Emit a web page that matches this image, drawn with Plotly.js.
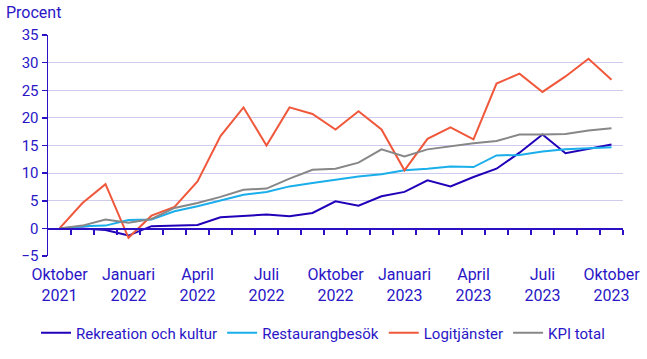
<!DOCTYPE html>
<html>
<head>
<meta charset="utf-8">
<script src="https://cdn.plot.ly/plotly-3.0.1.min.js"></script>
<style>html,body{margin:0;padding:0;background:#fff;}#chart{width:647px;height:359px;}</style>
</head>
<body>
<div id="chart"></div>
<script>
const months = [
  "2021-10","2021-11","2021-12","2022-01","2022-02","2022-03","2022-04","2022-05","2022-06",
  "2022-07","2022-08","2022-09","2022-10","2022-11","2022-12","2023-01","2023-02","2023-03",
  "2023-04","2023-05","2023-06","2023-07","2023-08","2023-09","2023-10"
];
const tickMonths = ["2021-10","2022-01","2022-04","2022-07","2022-10","2023-01","2023-04","2023-07","2023-10"];
const tickLabels = ["Oktober<br>2021","Januari<br>2022","April<br>2022","Juli<br>2022","Oktober<br>2022",
  "Januari<br>2023","April<br>2023","Juli<br>2023","Oktober<br>2023"];

const rekreation = [0,0.0,-0.3,-1.3,0.4,0.5,0.6,2.0,2.2,2.5,2.2,2.8,4.9,4.1,5.8,6.6,8.7,7.6,9.3,10.8,13.7,17.0,13.6,14.4,15.2];
const restaurang = [0,0.4,0.5,1.5,1.6,3.1,4.0,5.1,6.1,6.6,7.6,8.2,8.8,9.4,9.8,10.5,10.8,11.2,11.1,13.2,13.3,13.9,14.3,14.5,14.7];
const logi       = [0,4.6,8.0,-1.7,2.3,3.9,8.5,16.7,21.9,15.0,21.9,20.7,17.9,21.2,17.9,10.5,16.2,18.3,16.1,26.2,28.0,24.7,27.5,30.7,26.9];
const kpi        = [0,0.5,1.6,1.0,1.7,3.7,4.6,5.7,7.0,7.2,9.0,10.6,10.8,11.9,14.3,13.0,14.3,14.9,15.4,15.8,17.0,17.0,17.1,17.7,18.1];

const seriesNames = ["Rekreation och kultur","Restaurangbesök","Logitjänster","KPI total"];
const seriesValues = [rekreation, restaurang, logi, kpi];
const seriesColors = ["#2100b8","#1aaeea","#f0583c","#878787"];

const textColor = "#2a16c6";
const axisColor = "#2a12c4";
const gridColor = "#cfcbef";

const traces = seriesNames.map((name, k) => ({
  type: "scatter",
  mode: "lines",
  name: name,
  x: months,
  y: seriesValues[k],
  line: {color: seriesColors[k], width: 2},
  hoverinfo: "skip"
}));

const n = months.length;
const boundaryTicks = months.map((_, i) => i + 0.5);

const layout = {
  width: 647,
  height: 359,
  margin: {l: 48, r: 24, t: 35, b: 103, autoexpand: false},
  paper_bgcolor: "#ffffff",
  plot_bgcolor: "#ffffff",
  font: {family: "Roboto, Arial, sans-serif", size: 15, color: textColor},
  showlegend: true,
  legend: {
    orientation: "h",
    xref: "paper",
    x: (36 - 48) / 575,
    xanchor: "left",
    yref: "paper",
    y: -(333 - 256) / 221,
    yanchor: "middle",
    font: {size: 15, color: textColor},
    itemwidth: 30,
    tracegroupgap: 0
  },
  title: {
    text: "Procent",
    xref: "container",
    x: 6/647,
    xanchor: "left",
    yref: "container",
    y: 1 - 12/359,
    yanchor: "middle",
    font: {size: 16, color: textColor}
  },
  xaxis: {
    type: "category",
    categoryorder: "array",
    categoryarray: months,
    range: [-0.5, n - 0.5],
    tickmode: "array",
    tickvals: tickMonths,
    ticktext: tickLabels,
    ticks: "",
    showline: false,
    showgrid: false,
    zeroline: false,
    ticklabelstandoff: 7,
    tickfont: {size: 16, color: textColor},
    automargin: false,
    fixedrange: true
  },
  xaxis2: {
    overlaying: "x",
    anchor: "free",
    position: 5/40,
    range: [-0.5, n - 0.5],
    tickmode: "array",
    tickvals: boundaryTicks,
    showticklabels: false,
    ticks: "outside",
    ticklen: 5,
    tickwidth: 1.5,
    tickcolor: axisColor,
    showline: true,
    linecolor: axisColor,
    linewidth: 1.5,
    showgrid: false,
    zeroline: false,
    fixedrange: true
  },
  yaxis: {
    range: [-5, 35],
    dtick: 5,
    tick0: 0,
    ticks: "outside",
    ticklen: 5,
    tickwidth: 1.5,
    tickcolor: axisColor,
    showline: true,
    linecolor: axisColor,
    linewidth: 1.5,
    gridcolor: gridColor,
    gridwidth: 1,
    zeroline: false,
    tickfont: {size: 15, color: textColor},
    automargin: false,
    fixedrange: true
  }
};

traces.push({type: "scatter", mode: "lines", x: [], y: [], xaxis: "x2", yaxis: "y", showlegend: false, hoverinfo: "skip"});

Plotly.newPlot("chart", traces, layout, {staticPlot: true, displayModeBar: false});
</script>
</body>
</html>
